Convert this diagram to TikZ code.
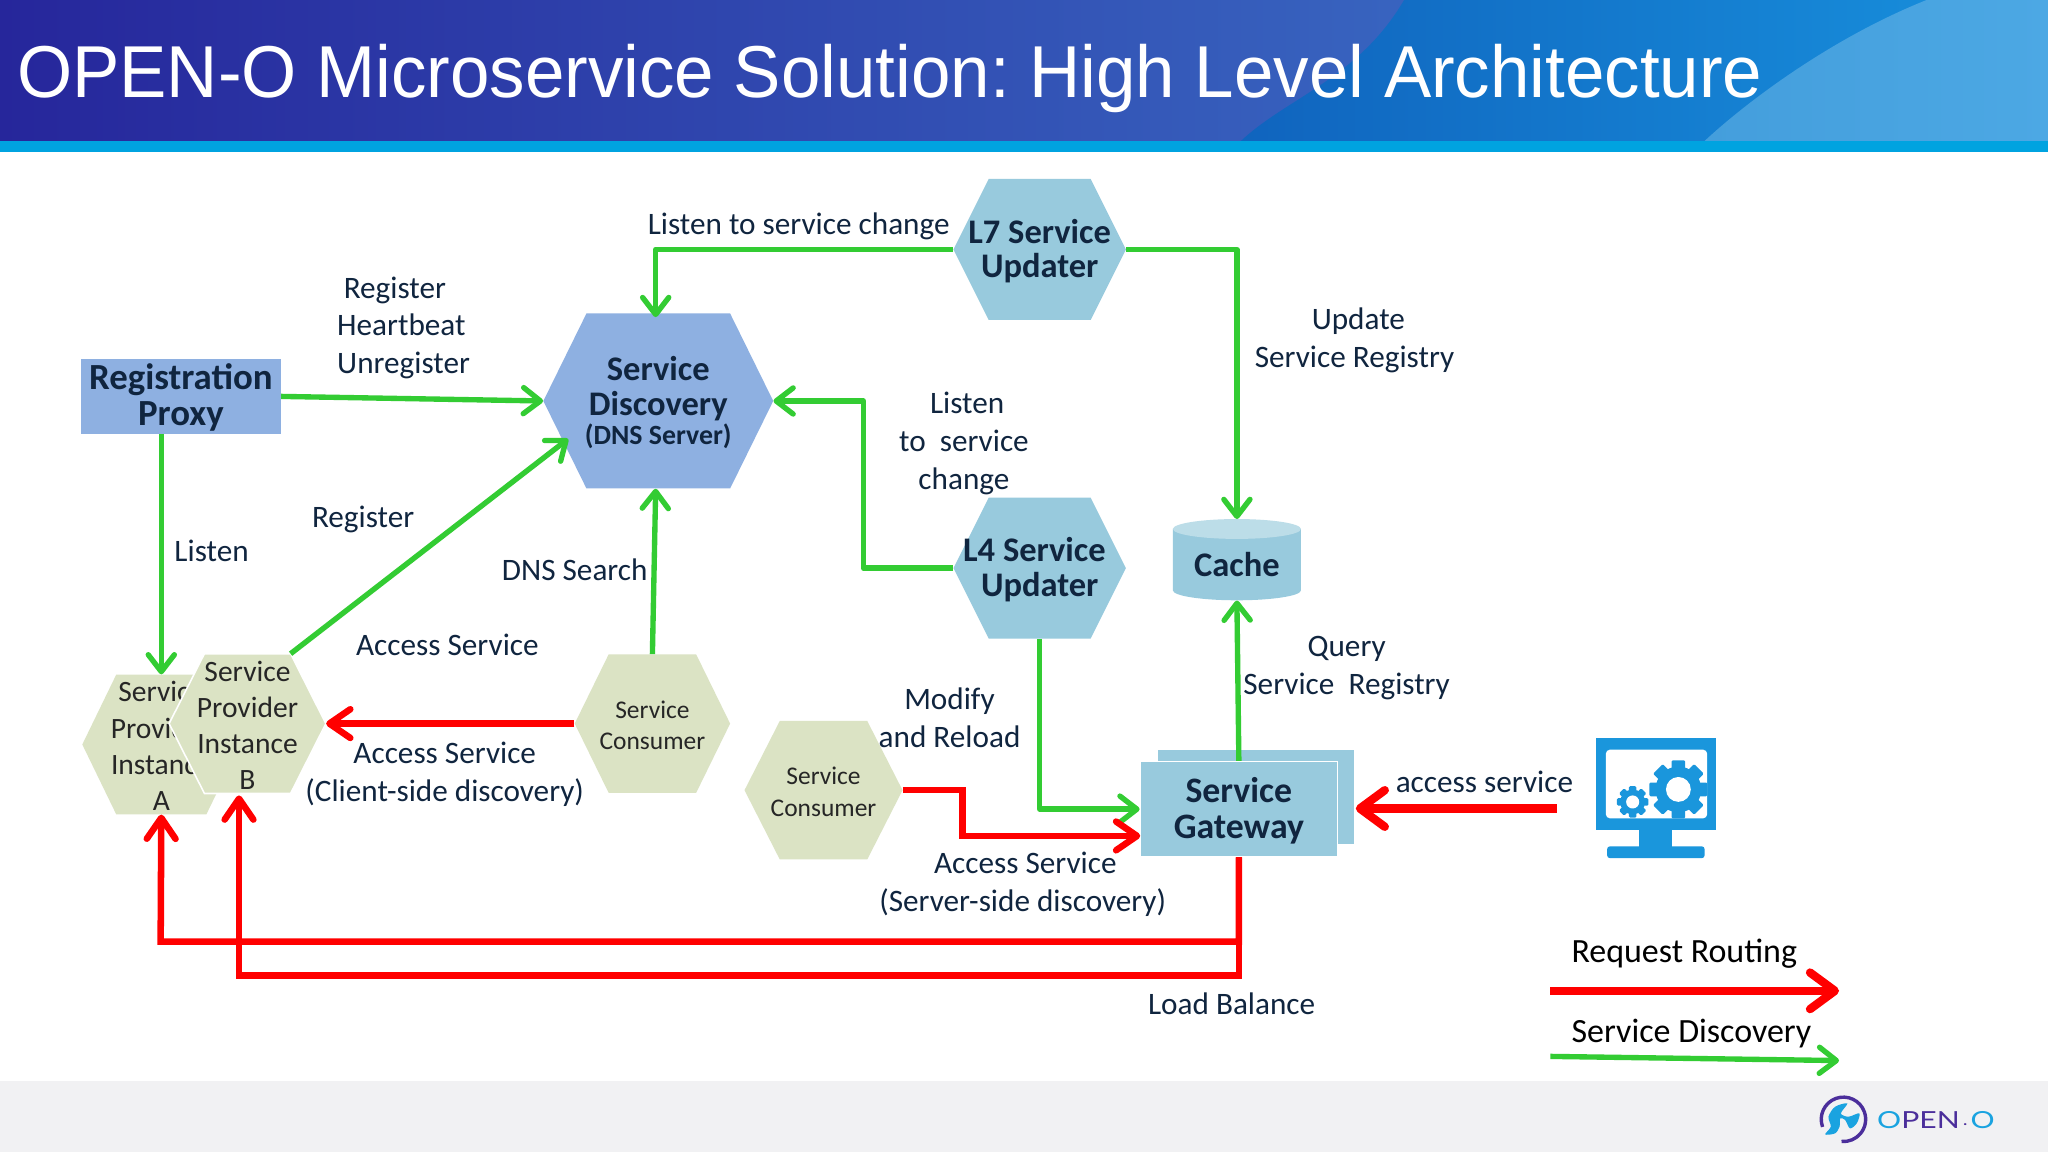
\documentclass[tikz,border=0pt]{standalone}
\usepackage{fontspec}
\setmainfont{Carlito}
\newfontfamily\titlefont{Liberation Sans}
\newfontfamily\logofont{Lato}
\usetikzlibrary{arrows.meta}
\definecolor{lgreen}{HTML}{33CC33}
\definecolor{lred}{HTML}{FF0000}
\definecolor{navy}{HTML}{10253F}
\definecolor{sdblue}{HTML}{8EB0E1}
\definecolor{gateblue}{HTML}{98CADD}
\definecolor{cachetop}{HTML}{BCDDE8}
\definecolor{sage}{HTML}{DBE3C4}
\definecolor{iconblue}{HTML}{1A96DC}
\definecolor{logopurple}{HTML}{4B2E9B}
\definecolor{logocyan}{HTML}{1AA3E0}
\newcommand{\sz}[1]{\fontsize{#1}{#1}\selectfont}
% hexagon with its text: name, x, y, half width, half height, inset, fill style, font, text
\newcommand{\hexa}[9]{
	\fill [#7](#2-#4,#3) -- (#2-#4+#6,#3-#5) -- (#2+#4-#6,#3-#5) -- (#2+#4,#3) -- (#2+#4-#6,#3+#5) -- (#2-#4+#6,#3+#5) -- cycle;
	\coordinate (#1 ne) at (#2+#4-#6,#3-#5);
	\node[hexbox,minimum width=2*#4 pt,minimum height=2*#5 pt] (#1) at (#2,#3) {};
	\node[hexlabel,#8] (#1 text) at ([yshift=-1.2pt]#1.center) {#9};
	}
% gear of the client icon: x, y, radius, hole radius
\newcommand{\gear}[4]{
	\fill [iconblue](#1,#2) circle (#3);
	\foreach \ang in {0,45,...,315}
		\fill [iconblue,shift={(#1,#2)},rotate=\ang,rounded corners=1pt](-#3*0.3,0) rectangle (#3*0.3,#3*1.27);
	\fill [white](#1,#2) circle (#4);
	}

\begin{document}
\begin{tikzpicture}[
      x=1pt,y=-1pt,
      hexbox/.style={inner sep=0pt},
      hexlabel/.style={inner sep=0pt,align=center},
      flow/.style={line width=4.1pt,draw=lgreen,line join=round,-{Straight Barb[round,length=13pt,width=20pt]}},
      route/.style={line width=5pt,draw=lred,line join=miter,-{Straight Barb[round,length=16pt,width=22pt]}},
      heavy/.style={line width=6.4pt,draw=lred,-{Straight Barb[round,length=19pt,width=28pt]}},
      boxfont/.style={font=\fontsize{28.2}{27.5}\selectfont\bfseries,text=navy},
      procfont/.style={font=\fontsize{26.4}{26.5}\selectfont\bfseries,text=navy},
      gatefont/.style={font=\fontsize{27.4}{27.5}\selectfont\bfseries,text=navy},
      smallfont/.style={font=\fontsize{19.5}{24}\selectfont,text=black!85},
      instfont/.style={font=\fontsize{22.6}{27.7}\selectfont,text=black!85},
      note/.style={font=\fontsize{23.9}{29}\selectfont,text=navy,align=center,inner sep=0pt},
      legend/.style={font=\sz{26},text=black,inner sep=0pt}
    ]
    \useasboundingbox (0,0) rectangle (1568,882);
    \fill [white](0,0) rectangle (1568,882);
    % Title band
    \shade [left color={rgb,255:red,38;green,38;blue,155},middle color={rgb,255:red,48;green,84;blue,184},right color={rgb,255:red,64;green,128;blue,208}](0,0) rectangle (1568,108);
    \shade [left color={rgb,255:red,16;green,100;blue,190},right color={rgb,255:red,24;green,146;blue,222}](950,108) .. controls (985,75) and (1040,60) .. (1075,0) -- (1568,0) -- (1568,108) -- cycle;
    \shade [left color={rgb,255:red,68;green,158;blue,220},right color={rgb,255:red,76;green,168;blue,228}](1305,108) .. controls (1335,80) and (1400,30) .. (1475,0) -- (1568,0) -- (1568,108) -- cycle;
    \fill [color={rgb,255:red,0;green,163;blue,224}](0,108) rectangle (1568,116);
    \node[anchor=base west,inner sep=0pt,text=white,font=\titlefont\sz{56.3}\frenchspacing] (title) at (13,74.8) {\scalebox{0.964}[1]{OPEN-O Microservice Solution: High Level Architecture}};
    % Footer
    \fill [color={rgb,255:red,241;green,241;blue,243}](0,828) rectangle (1568,882);
    % Draw the registration side
    \node[fill=sdblue,inner sep=0pt,minimum width=153pt,minimum height=57pt] (proxy) at (138.5,303.5) {};
    \node[hexlabel,boxfont] (proxy text) at ([yshift=-1pt]proxy.center) {Registration\\Proxy};
    \hexa{disc}{504}{307}{88}{67}{33}{fill=sdblue}{procfont}{Service\\[0.5pt]Discovery\\[-4pt]{\fontsize{21.3}{22}\selectfont (DNS Server)}};
    % Draw the updaters
    \hexa{lseven}{796}{191}{66}{54}{27}{fill=gateblue}{procfont}{L7 Service\\Updater};
    \hexa{lfour}{796}{435}{66}{54}{27}{fill=gateblue}{procfont}{L4 Service\hspace*{8pt}\\Updater};
    % Draw the provider instances
    \hexa{instA}{123.5}{570}{60.5}{53.5}{26}{fill=sage}{instfont}{Service\\Provider\\Instance\\A};
    \hexa{instB}{189.5}{554}{60}{53.5}{27}{fill=sage,draw=white,line width=1.2pt}{instfont}{Service\\Provider\\Instance\\B};
    % Draw the consumers
    \hexa{consA}{499.5}{554}{59.5}{53}{26}{fill=sage}{smallfont}{Service\\Consumer};
    \hexa{consB}{630.5}{605}{60.5}{53}{27}{fill=sage}{smallfont}{Service\\Consumer};
    % Draw the cache
    \fill [gateblue](898,405) -- (898,452) arc[start angle=180,end angle=0,x radius=49,y radius=7.6] -- (996,405) -- cycle;
    \fill [cachetop](947,405) ellipse (49 and 7.6);
    \node[minimum width=98pt,minimum height=62pt,inner sep=0pt] (cache) at (947,428.6) {};
    \node[hexlabel,procfont] (cache text) at ([yshift=-3.5pt]cache.center) {Cache};
    % Draw the gateway
    \fill [gateblue](886.5,574) rectangle (1037,646);
    \node[fill=gateblue,draw=white,line width=1pt,inner sep=0pt,minimum width=151pt,minimum height=73pt] (gate) at (948.5,619.5) {};
    \node[hexlabel,gatefont] (gate text) at ([yshift=-1.5pt]gate.center) {Service\\Gateway};
    % Draw the client icon
    \fill [iconblue](1222,565) rectangle (1314,635.5);
    \fill [white,rounded corners=3pt](1229.5,574) rectangle (1307,626.5);
    \fill [iconblue](1255,635) rectangle (1280,649);
    \fill [iconblue,rounded corners=2pt](1230.5,648) rectangle (1305,657);
    \gear{1285}{604.4}{17.5}{9.5};
    \gear{1250}{614}{9.5}{5};
    \coordinate (client) at (1192,619);
    \coordinate (gateback) at (1038,619);
    % Bends and free ends
    \coordinate (regin) at (435,336);
    \coordinate (gatein) at (873,640);
    \coordinate (lfourbend) at (661,435);
    \coordinate (consbend) at (737,605);
    \coordinate (lbA) at (123,721);
    \coordinate (lbB) at (183,747);
    \coordinate (instBin) at (183,609);
    % Service discovery connectors
    \draw [flow](lseven.west) -| ([xshift=-2pt,yshift=-3pt]disc.north);
    \draw [flow](lseven.east) -| (cache.north);
    \draw [flow](lfour.west) -- (lfourbend) |- (disc.east);
    \draw [flow](lfour.south) |- (gate.west);
    \draw [flow](proxy.east) -- (disc.west);
    \draw [flow](proxy.south -| instA.north) -- (instA.north);
    \draw [flow](instB ne) -- (regin);
    \draw [flow](consA.north) -- ([xshift=-2pt]disc.south);
    \draw [flow](gate.north) -- (cache.south);
    % Request routing connectors
    \draw [route](consA.west) -- (instB.east);
    \draw [route](consB.east) -- (consbend) |- (gatein);
    \draw [route](gate.south) |- (lbA) -- (instA.south);
    \draw [route](gate.south) |- (lbB) -- (instBin);
    \draw [heavy](client) -- (gateback);
    % Labels
    \node[note] (ltop) at (611.5,173.5) {Listen to service change};
    \node[note,align=left,anchor=west] (lreg) at (258,251) {\hspace*{5pt}Register\\Heartbeat\\Unregister};
    \node[note] (lupd) at (1037,260.5) {\hspace*{6pt}Update\\Service Registry};
    \node[note] (lch) at (738,339.5) {\hspace*{5pt}Listen\\to\ \ service\\change};
    \node[note] (lrg) at (278,398) {Register};
    \node[note] (llis) at (162,422) {Listen};
    \node[note] (ldns) at (440,436) {DNS Search};
    \node[note] (lacc) at (342.5,494) {Access Service};
    \node[note] (lcl) at (340.5,593) {Access Service\\(Client-side discovery)};
    \node[note] (lmod) at (727,549.5) {Modify\\and Reload};
    \node[note] (lqry) at (1031,511.5) {Query\\Service\ \ Registry};
    \node[note] (lacs) at (1136.5,599) {access service};
    \node[note] (lsrv) at (783,677) {\hspace*{4pt}Access Service\\(Server-side discovery)};
    \node[note] (llb) at (943,768.5) {Load Balance};
    % Legend
    \node[legend] (lgr) at (1289.5,730.5) {Request Routing};
    \node[legend] (lgs) at (1295,791.5) {Service Discovery};
    \coordinate (lgrA) at (1187,758.6);
    \coordinate (lgrB) at (1408,758.6);
    \coordinate (lgsA) at (1187,808.8);
    \coordinate (lgsB) at (1408,812);
    \draw [heavy](lgrA) -- (lgrB);
    \draw [flow](lgsA) -- (lgsB);
    % Logo
    \draw [logopurple,line width=2.6pt](1395.4,862.8) arc[start angle=160,end angle=455,radius=17];
    \fill [logocyan] plot[smooth cycle,tension=0.5] coordinates {(1397.4,868.5) (1401.7,862.6) (1399.9,855) (1405,847.3) (1414.4,844.8) (1409.4,852.4) (1415.2,855) (1423.6,852.4) (1421.6,860) (1416.4,863.9) (1412.7,857.5) (1408.9,856.2) (1408.4,862.6) (1405,867.7)};
    \node[inner sep=0pt,anchor=west,font=\logofont\sz{18}] (logotext) at (1437,857.6) {\scalebox{1.28}[1]{\textcolor{logocyan}{O}\textcolor{logopurple}{PEN}\hspace{2pt}\textcolor{logopurple}{\sz{10}·}\hspace{2pt}\textcolor{logocyan}{O}}};
\end{tikzpicture}
\end{document}
